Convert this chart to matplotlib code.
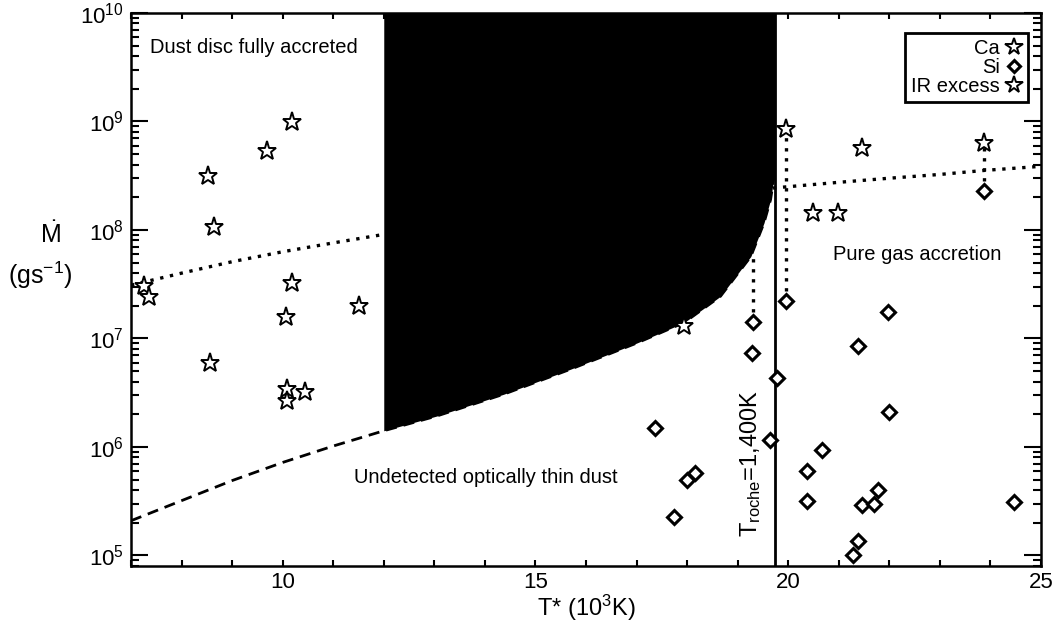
import numpy as np
import matplotlib
matplotlib.use("Agg")
import matplotlib.pyplot as plt
from matplotlib.lines import Line2D
from matplotlib.ticker import MultipleLocator, LogLocator, NullFormatter

plt.rcParams['font.family'] = ['Liberation Sans', 'DejaVu Sans']
plt.rcParams['mathtext.fontset'] = 'custom'
plt.rcParams['mathtext.rm'] = 'Liberation Sans'
plt.rcParams['mathtext.it'] = 'Liberation Sans:italic'
plt.rcParams['mathtext.bf'] = 'Liberation Sans:bold'

# Ca detections (stars), T in 10^3 K, Mdot in g/s
ca_t = [10.19, 9.69, 8.53, 8.64, 7.26, 7.35, 10.19, 11.51, 10.07, 8.56, 10.08, 10.44, 10.08,
        17.94, 19.95, 21.46, 23.88, 20.48, 20.99]
ca_m = [9.8e8, 5.3e8, 3.15e8, 1.06e8, 3.07e7, 2.43e7, 3.24e7, 2.0e7, 1.58e7, 6.0e6, 3.4e6, 3.2e6, 2.64e6,
        1.30e7, 8.5e8, 5.7e8, 6.3e8, 1.44e8, 1.44e8]

# Si detections (diamonds)
si_t = [23.88, 19.95, 21.98, 21.38, 19.78, 22.0, 20.66, 20.37, 20.37, 21.77, 21.46, 21.70, 24.46,
        21.38, 21.28, 19.31, 19.28, 19.63, 17.36, 18.0, 18.16, 17.75]
si_m = [2.3e8, 2.2e7, 1.75e7, 8.5e6, 4.35e6, 2.1e6, 9.35e5, 6.0e5, 3.19e5, 4.03e5, 2.92e5, 2.98e5, 3.13e5,
        1.36e5, 1.0e5, 1.42e7, 7.3e6, 1.17e6, 1.49e6, 4.92e5, 5.7e5, 2.26e5]

# connectors between Ca and Si of the same star
link_t = [19.31, 19.95, 23.88]
link_lo = [1.42e7, 2.2e7, 2.3e8]
link_hi = [5.7e7, 8.5e8, 6.3e8]

# dotted gas-only line
gas_t = [7.0, 8.0, 9.0, 10.0, 11.0, 12.0, 14.0, 16.0, 18.0, 19.8, 21.0, 22.0, 23.0, 23.88, 25.0]
gas_m = [3.1e7, 4.0e7, 5.1e7, 6.3e7, 7.6e7, 9.1e7, 1.24e8, 1.62e8, 2.04e8, 2.46e8, 2.75e8, 3.0e8,
         3.25e8, 3.54e8, 3.86e8]

# dashed optically thin / thick boundary
thin_t = [7.0, 8.0, 9.0, 10.0, 11.0, 12.0, 13.05, 14.37, 15.69, 17.01, 17.94, 18.66, 19.26, 19.52,
          19.65, 19.71, 19.73]
thin_m = [2.09e5, 3.2e5, 4.9e5, 7.2e5, 1.02e6, 1.41e6, 1.93e6, 3.06e6, 5.2e6, 9.1e6, 1.4e7, 2.45e7,
          5.7e7, 1.16e8, 1.9e8, 2.9e8, 3.3e8]

t_roche = 19.73
t_fill_min = 12.0

fig = plt.figure(figsize=(10.57, 6.3), dpi=100)
ax = fig.add_axes([0.1239, 0.1016, 0.8610, 0.8778])

thin_t_arr = np.array(thin_t)
thin_m_arr = np.array(thin_m)
sel = thin_t_arr >= t_fill_min
ax.fill_between(thin_t_arr[sel], thin_m_arr[sel], 1e10, color='black', lw=0, zorder=2)

ax.plot(gas_t, gas_m, ls=(0, (1, 2)), color='black', lw=2.4, zorder=1)
ax.plot(thin_t, thin_m, ls=(0, (4, 2.5)), color='black', lw=2, zorder=2.5)
ax.axvline(t_roche, color='black', lw=2, zorder=2.5)
for t, lo, hi in zip(link_t, link_lo, link_hi):
    ax.plot([t, t], [lo, hi], ls=(0, (1, 2)), color='black', lw=2.4, zorder=1.5)

ax.plot(ca_t, ca_m, ls='none', marker='*', ms=14, mfc='white', mec='black', mew=1.4, zorder=4)
ax.plot(si_t, si_m, ls='none', marker='D', ms=7, mfc='white', mec='black', mew=2.2, zorder=4)

ax.set_yscale('log')
ax.set_xlim(7, 25)
ax.set_ylim(8e4, 1e10)

ax.xaxis.set_major_locator(MultipleLocator(5))
ax.xaxis.set_minor_locator(MultipleLocator(1))
ax.yaxis.set_major_locator(LogLocator(base=10, numticks=20))
ax.yaxis.set_minor_locator(LogLocator(base=10, subs=np.arange(2, 10), numticks=20))
ax.yaxis.set_minor_formatter(NullFormatter())

ax.tick_params(axis='both', which='both', direction='in', top=True, right=True, width=1.5,
               labelsize=16, colors='black')
ax.tick_params(axis='x', which='both', length=4.3, pad=4)
ax.tick_params(axis='y', which='major', length=12, pad=5)
ax.tick_params(axis='y', which='minor', length=5.5)
for sp in ax.spines.values():
    sp.set_linewidth(1.8)

ax.set_xlabel('T* (10$^3$K)', fontsize=17, labelpad=0)
ax.text(-0.089, 0.599, '$\\dot{\\mathrm{M}}$', transform=ax.transAxes, fontsize=18,
        ha='center', va='center')
ax.text(-0.1, 0.526, '(gs$^{-1}$)', transform=ax.transAxes, fontsize=18,
        ha='center', va='center')

ax.text(9.44, 10**9.678, 'Dust disc fully accreted', fontsize=14.5, ha='center', va='center')
ax.text(14.01, 10**5.722, 'Undetected optically thin dust', fontsize=14.5, ha='center', va='center')
ax.text(22.56, 10**7.774, 'Pure gas accretion', fontsize=14.5, ha='center', va='center')
ax.text(19.26, 10**5.851, 'T$_{\\rm roche}$=1,400K', fontsize=17, rotation=90,
        ha='center', va='center')

handles = [
    Line2D([], [], ls='none', marker='*', ms=13, mfc='white', mec='black', mew=1.4),
    Line2D([], [], ls='none', marker='D', ms=6, mfc='white', mec='black', mew=2.2),
    Line2D([], [], ls='none', marker='*', ms=13, mfc='white', mec='black', mew=1.4),
]
leg = ax.legend(handles, ['Ca', 'Si', 'IR excess'], loc='upper right',
                bbox_to_anchor=(0.9857, 0.9638), borderaxespad=0, markerfirst=False,
                fontsize=14.5, handlelength=0.8, handletextpad=0.3, labelspacing=0.0,
                borderpad=0.3, fancybox=False, framealpha=1, edgecolor='black')
leg.get_frame().set_linewidth(2)

fig.savefig('out.png', dpi=100)
